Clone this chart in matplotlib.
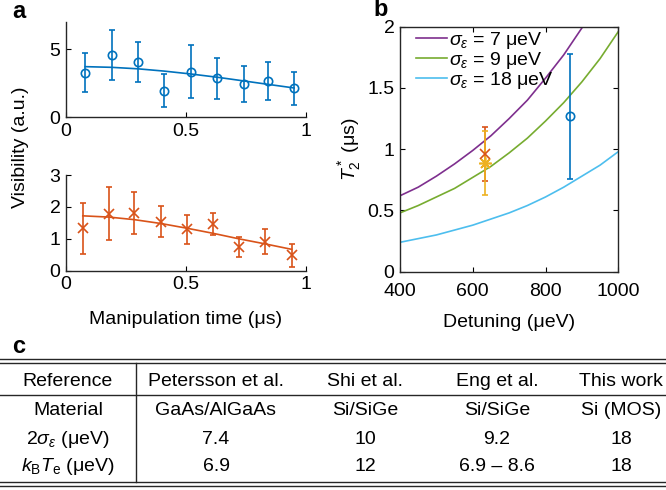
import numpy as np
import matplotlib
matplotlib.use("Agg")
import matplotlib.pyplot as plt
from matplotlib.lines import Line2D

plt.rcParams['font.family'] = ['Liberation Sans', 'DejaVu Sans']
plt.rcParams['mathtext.fontset'] = 'custom'
plt.rcParams['mathtext.rm'] = 'Liberation Sans'
plt.rcParams['mathtext.it'] = 'Liberation Sans:italic'
plt.rcParams['font.size'] = 14
plt.rcParams['axes.linewidth'] = 1.0
plt.rcParams['axes.edgecolor'] = '#262626'
plt.rcParams['xtick.direction'] = 'in'
plt.rcParams['ytick.direction'] = 'in'
plt.rcParams['xtick.major.size'] = 3.5
plt.rcParams['ytick.major.size'] = 3.5
plt.rcParams['xtick.major.pad'] = 4
plt.rcParams['ytick.major.pad'] = 4

blue = '#0072BD'
orange = '#D95319'
yellow = '#EDB120'
purple = '#7E2F8E'
green = '#77AC30'
cyan = '#4DBEEE'

# panel a, top (circles)
t_top = [0.08, 0.19, 0.30, 0.41, 0.52, 0.63, 0.74, 0.84, 0.95]
vis_top = [3.27, 4.56, 4.05, 1.95, 3.34, 2.85, 2.44, 2.63, 2.12]
err_top = [1.45, 1.84, 1.50, 1.20, 1.95, 1.50, 1.30, 1.40, 1.20]
fit_top = [3.71, 3.66, 3.55, 3.38, 3.17, 2.93, 2.66, 2.41, 2.14]

# panel a, bottom (crosses)
t_bot = [0.07, 0.18, 0.285, 0.395, 0.505, 0.614, 0.72, 0.83, 0.94]
vis_bot = [1.33, 1.78, 1.82, 1.54, 1.30, 1.47, 0.74, 0.91, 0.48]
err_bot = [0.80, 0.83, 0.66, 0.48, 0.45, 0.34, 0.31, 0.40, 0.35]
fit_bot = [1.72, 1.68, 1.60, 1.48, 1.33, 1.17, 1.00, 0.84, 0.67]

# panel b
det = [400, 450, 500, 550, 600, 650, 700, 750, 800, 850, 900, 950, 1000]
t2_7 = [0.62, 0.69, 0.78, 0.88, 0.99, 1.11, 1.25, 1.40, 1.58, 1.77, 1.99, 2.24, 2.52]
t2_9 = [0.48, 0.54, 0.61, 0.68, 0.77, 0.86, 0.97, 1.09, 1.23, 1.38, 1.55, 1.74, 1.96]
t2_18 = [0.24, 0.27, 0.30, 0.34, 0.38, 0.43, 0.48, 0.54, 0.61, 0.69, 0.78, 0.87, 0.98]
curve_labels = [r'$\sigma_\epsilon$ = 7 μeV', r'$\sigma_\epsilon$ = 9 μeV', r'$\sigma_\epsilon$ = 18 μeV']

meas_det = [867, 633, 633]
meas_t2 = [1.27, 0.96, 0.89]
meas_err = [0.51, 0.22, 0.26]

# table
col_heads = ['Reference', 'Petersson et al.', 'Shi et al.', 'Eng et al.', 'This work']
row_material = ['Material', 'GaAs/AlGaAs', 'Si/SiGe', 'Si/SiGe', 'Si (MOS)']
row_sigma = [r'2$\sigma_\epsilon$ (μeV)', '7.4', '10', '9.2', '18']
row_kt = [r'$k_\mathrm{B}T_\mathrm{e}$ (μeV)', '6.9', '12', '6.9 – 8.6', '18']

W, H = 666, 490
fig = plt.figure(figsize=(W / 100, H / 100), dpi=100)


def box(l, t, r, b):
    return [l / W, 1 - b / H, (r - l) / W, (b - t) / H]


def fx(x):
    return x / W


def fy(y):
    return 1 - y / H


# ---- panel a top
ax1 = fig.add_axes(box(66, 22, 306, 117))
ax1.plot(t_top, fit_top, color=blue, lw=1.2)
ax1.errorbar(t_top, vis_top, yerr=err_top, fmt='o', color=blue, mfc='none',
             ms=6, mew=1.2, elinewidth=1.2, capsize=2.5, capthick=1.2)
ax1.set_xlim(0, 1)
ax1.set_ylim(0, 7)
ax1.set_xticks([0, 0.5, 1])
ax1.set_xticklabels(['0', '0.5', '1'])
ax1.set_yticks([0, 5])
ax1.spines['top'].set_visible(False)
ax1.spines['right'].set_visible(False)

# ---- panel a bottom
ax2 = fig.add_axes(box(66, 175, 306, 270.7))
ax2.plot(t_bot, fit_bot, color=orange, lw=1.2)
ax2.errorbar(t_bot, vis_bot, yerr=err_bot, fmt='x', color=orange,
             ms=7, mew=1.2, elinewidth=1.2, capsize=2.5, capthick=1.2)
ax2.set_xlim(0, 1)
ax2.set_ylim(0, 3)
ax2.set_xticks([0, 0.5, 1])
ax2.set_xticklabels(['0', '0.5', '1'])
ax2.set_yticks([0, 1, 2, 3])
ax2.spines['top'].set_visible(False)
ax2.spines['right'].set_visible(False)

fig.text(fx(21), fy(147), 'Visibility (a.u.)', rotation=90, ha='center', va='center')
fig.text(fx(186), fy(319), 'Manipulation time (μs)', ha='center', va='center')

# ---- panel b
ax3 = fig.add_axes(box(400, 26.7, 618.3, 271.7))
for ys, c, lab in zip([t2_7, t2_9, t2_18], [purple, green, cyan], curve_labels):
    ax3.plot(det, ys, color=c, lw=1.2, label=lab)
ax3.errorbar(meas_det[0], meas_t2[0], yerr=meas_err[0], fmt='o', color=blue, mfc='none',
             ms=6, mew=1.2, elinewidth=1.2, capsize=2.5, capthick=1.2)
ax3.errorbar(meas_det[1], meas_t2[1], yerr=meas_err[1], fmt='x', color=orange,
             ms=7, mew=1.2, elinewidth=1.2, capsize=2.5, capthick=1.2)
ax3.errorbar(meas_det[2], meas_t2[2], yerr=meas_err[2], fmt='none', ecolor=yellow,
             elinewidth=1.2, capsize=2.5, capthick=1.2)
ax3.plot(meas_det[2], meas_t2[2], marker=(8, 2, 0), color=yellow, ms=9, mew=1.2, ls='none')
ax3.set_xlim(400, 1000)
ax3.set_ylim(0, 2)
ax3.set_xticks([400, 600, 800, 1000])
ax3.set_yticks([0, 0.5, 1, 1.5, 2])
ax3.set_yticklabels(['0', '0.5', '1', '1.5', '2'])
ax3.tick_params(top=True, right=True)
ax3.tick_params(axis='x', pad=8)
ax3.set_xlabel('Detuning (μeV)', labelpad=10)
ax3.set_ylabel(r'$T_2^*$ (μs)', labelpad=3)
ax3.legend(loc='upper left', bbox_to_anchor=(0.045, 1.01), frameon=False,
           handlelength=1.6, handletextpad=0.1, labelspacing=-0.05,
           borderaxespad=0.1, borderpad=0.2)

# panel letters
fig.text(fx(12), fy(12), 'a', fontsize=17, fontweight='bold', va='center')
fig.text(fx(373), fy(10), 'b', fontsize=17, fontweight='bold', va='center')
fig.text(fx(12), fy(346), 'c', fontsize=17, fontweight='bold', va='center')

# ---- panel c table
for y in [359.3, 362.7, 395, 481.7, 486]:
    fig.add_artist(Line2D([0, 1], [fy(y), fy(y)], color='#262626', lw=1.0))
fig.add_artist(Line2D([fx(136), fx(136)], [fy(362.7), fy(481.7)], color='#262626', lw=1.0))

col_x = [68, 216, 365, 497, 621]
row_y = [381.7, 410.7, 439, 466.7]
for row, y in zip([col_heads, row_material, row_sigma, row_kt], row_y):
    for txt, x in zip(row, col_x):
        fig.text(fx(x), fy(y), txt, ha='center', va='center')

fig.savefig('out.png', dpi=100)
